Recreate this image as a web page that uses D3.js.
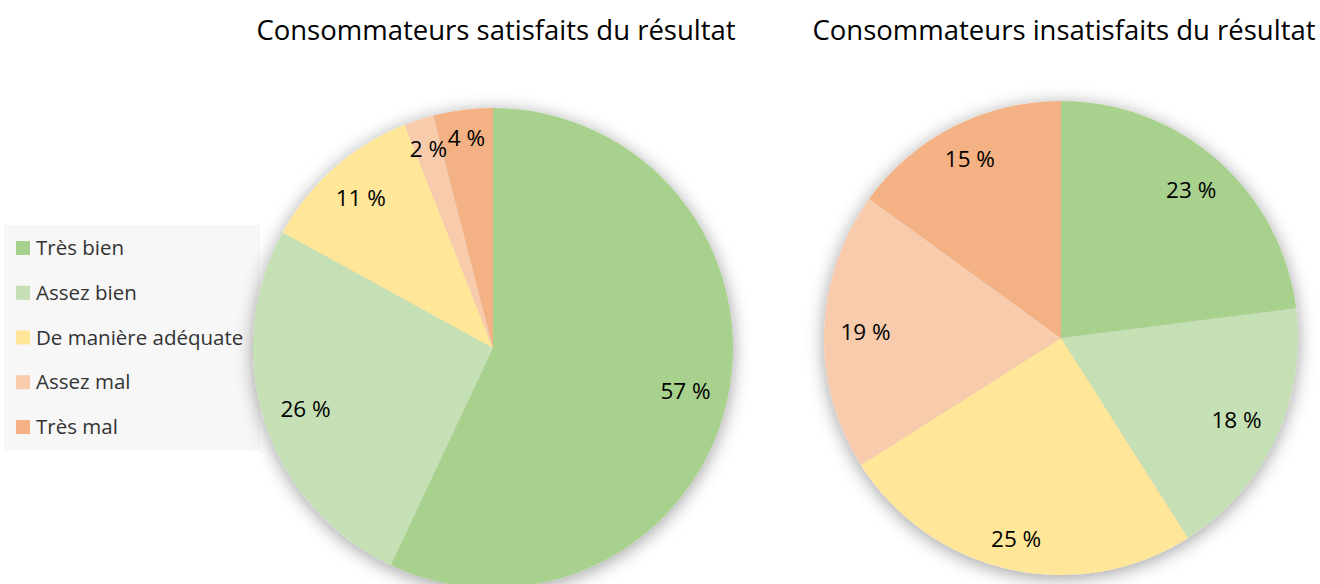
<!DOCTYPE html>
<html>
<head>
<meta charset="utf-8">
<script src="https://cdn.jsdelivr.net/npm/d3@7"></script>
<style>
  body { margin: 0; background: #fff; overflow: hidden; }
  text { font-family: "Open Sans", "Noto Sans", sans-serif; }
</style>
</head>
<body>
<div id="chart"></div>
<script>
var svgWidth = 1320;
var svgHeight = 584;

// data
var categories = ["Très bien", "Assez bien", "De manière adéquate", "Assez mal", "Très mal"];
var satisfaits = [57, 26, 11, 2, 4];
var insatisfaits = [23, 18, 25, 19, 15];
var titles = ["Consommateurs satisfaits du résultat", "Consommateurs insatisfaits du résultat"];
var colors = ["#A9D18E", "#C5E0B4", "#FFE699", "#F8CBAD", "#F4B183"];

var svg = d3.select("#chart")
  .append("svg")
  .attr("width", svgWidth)
  .attr("height", svgHeight);

// soft shadow behind the pies
var defs = svg.append("defs");
var filter = defs.append("filter")
  .attr("id", "shadow")
  .attr("x", "-20%").attr("y", "-20%")
  .attr("width", "140%").attr("height", "140%");
filter.append("feDropShadow")
  .attr("dx", 0)
  .attr("dy", 3)
  .attr("stdDeviation", 9)
  .attr("flood-color", "#000")
  .attr("flood-opacity", 0.38);

var color = d3.scaleOrdinal().domain(categories).range(colors);

// legend box
var legend = svg.append("g");
legend.append("rect")
  .attr("x", 4)
  .attr("y", 225)
  .attr("width", 256)
  .attr("height", 225)
  .attr("fill", "#F7F7F7");

var legendY = d3.scalePoint().domain(categories).range([248, 427]);

var items = legend.selectAll("g.item")
  .data(categories)
  .enter()
  .append("g")
  .attr("class", "item")
  .attr("transform", d => `translate(16, ${legendY(d)})`);

items.append("rect")
  .attr("x", 0)
  .attr("y", -7)
  .attr("width", 14)
  .attr("height", 14)
  .attr("fill", d => color(d));

items.append("text")
  .attr("x", 20)
  .attr("y", 0)
  .attr("dy", "0.35em")
  .attr("font-size", "20.5px")
  .attr("fill", "#333")
  .text(d => d);

// pies
var pies = [
  { title: titles[0], values: satisfaits, cx: 493, cy: 348, r: 240 },
  { title: titles[1], values: insatisfaits, cx: 1061, cy: 338, r: 237 }
];

var pie = d3.pie().sort(null);

pies.forEach(function(p) {
  var g = svg.append("g")
    .attr("transform", `translate(${p.cx}, ${p.cy})`);

  var arc = d3.arc().innerRadius(0).outerRadius(p.r);
  var arcs = pie(p.values);

  g.append("g")
    .attr("filter", "url(#shadow)")
    .selectAll("path")
    .data(arcs)
    .enter()
    .append("path")
    .attr("d", arc)
    .attr("fill", (d, i) => color(categories[i]));

  // labels sit inside the slice, a fixed gap from the rim (like "best fit")
  g.selectAll("text.lbl")
    .data(arcs)
    .enter()
    .append("text")
    .attr("class", "lbl")
    .attr("text-anchor", "middle")
    .attr("dy", "0.35em")
    .attr("font-size", "22.5px")
    .attr("fill", "#000")
    .text(d => d.data + " %")
    .attr("transform", function(d) {
      var a = (d.startAngle + d.endAngle) / 2;
      var hw = this.getComputedTextLength() / 2;
      var hh = 10;
      var dist = p.r - 16 - (hw * Math.abs(Math.sin(a)) + hh * Math.abs(Math.cos(a)));
      return `translate(${dist * Math.sin(a)}, ${-dist * Math.cos(a)})`;
    });

  svg.append("text")
    .attr("x", p.cx + 3)
    .attr("y", 40)
    .attr("text-anchor", "middle")
    .attr("font-size", "27.5px")
    .attr("fill", "#000")
    .text(p.title);
});
</script>
</body>
</html>
